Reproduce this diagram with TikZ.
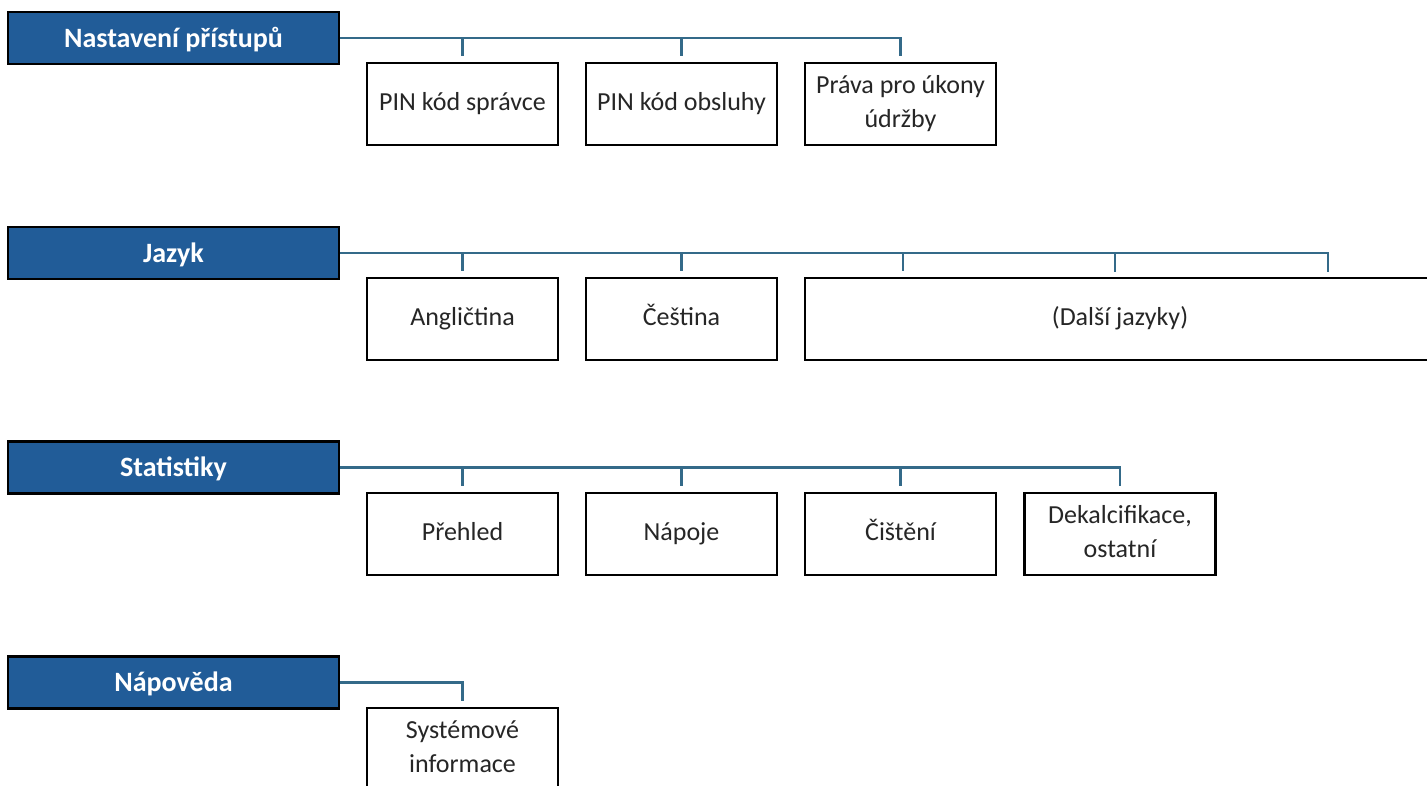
\documentclass[tikz,border=0pt]{standalone}
\usepackage{fontspec}
\setmainfont{Carlito}
\definecolor{hdrblue}{RGB}{33,92,152}
\definecolor{connblue}{RGB}{52,106,137}
\begin{document}
\begin{tikzpicture}[x=1pt,y=-1pt,
  hdr/.style={draw=black, line width=2.2pt, fill=hdrblue, text=white,
    font=\bfseries\fontsize{28}{32}\selectfont, minimum width=331pt, minimum height=52pt,
    inner sep=0pt, text height=18pt, text depth=0pt},
  itemtext/.style={font=\fontsize{26}{34}\selectfont, text=black!85, align=center},
  item/.style={draw=black, line width=2.2pt, fill=white, itemtext,
    minimum width=191pt, minimum height=82pt, inner sep=0pt},
  conn/.style={draw=connblue, line width=2.4pt}]
\useasboundingbox (0,0) rectangle (1427,785);
\clip (0,0) rectangle (1427,785);
% headers
\node[hdr] (h1) at (173.5,38) {Nastavení přístupů};
\node[hdr] (h2) at (173.5,253) {Jazyk};
\node[hdr] (h3) at (173.5,467.5) {Statistiky};
\node[hdr] (h4) at (173.5,682.5) {Nápověda};
% row 1
\node[item] (c11) at (462.5,104) {\strut PIN kód správce};
\node[item] (c12) at (681.5,104) {\strut PIN kód obsluhy};
\node[item] (c13) at (900.5,104) {\strut Práva pro úkony\\\strut údržby};
% row 2
\node[item] (c21) at (462.5,319) {\strut Angličtina};
\node[item] (c22) at (681.5,319) {\strut Čeština};
\node[item, minimum width=645pt] (c23) at (1127.5,319) {};
\node[itemtext] (c23t) at (1120,319) {\strut (Další jazyky)};
\coordinate (j4) at (1115,278);
\coordinate (j5) at (1328,278);
% row 3
\node[item] (c31) at (462.5,534) {\strut Přehled};
\node[item] (c32) at (681.5,534) {\strut Nápoje};
\node[item] (c33) at (900.5,534) {\strut Čištění};
\node[item] (c34) at (1120,534) {\strut Dekalcifikace,\\\strut ostatní};
% row 4
\node[item, minimum height=92pt] (c41) at (462.5,754) {};
\node[itemtext] (c41t) at (462.5,749) {\strut Systémové\\\strut informace};
% connectors row 1
\draw[conn] (h1.east) -| ([yshift=6pt]c13.north);
\draw[conn] (h1.east -| c11.north) -- ([yshift=6pt]c11.north);
\draw[conn] (h1.east -| c12.north) -- ([yshift=6pt]c12.north);
% row 2
\draw[conn] (h2.east) -| ([yshift=6pt]j5);
\draw[conn] (h2.east -| c21.north) -- ([yshift=6pt]c21.north);
\draw[conn] (h2.east -| c22.north) -- ([yshift=6pt]c22.north);
\draw[conn] (h2.east -| 903,0) -- ([yshift=6pt]c23.north -| 903,0);
\draw[conn] (h2.east -| j4) -- ([yshift=6pt]j4);
% row 3
\draw[conn] (h3.east) -| ([yshift=6pt]c34.north);
\draw[conn] (h3.east -| c31.north) -- ([yshift=6pt]c31.north);
\draw[conn] (h3.east -| c32.north) -- ([yshift=6pt]c32.north);
\draw[conn] (h3.east -| c33.north) -- ([yshift=6pt]c33.north);
% row 4
\draw[conn] (h4.east) -| ([yshift=6pt]c41.north);
\end{tikzpicture}
\end{document}
